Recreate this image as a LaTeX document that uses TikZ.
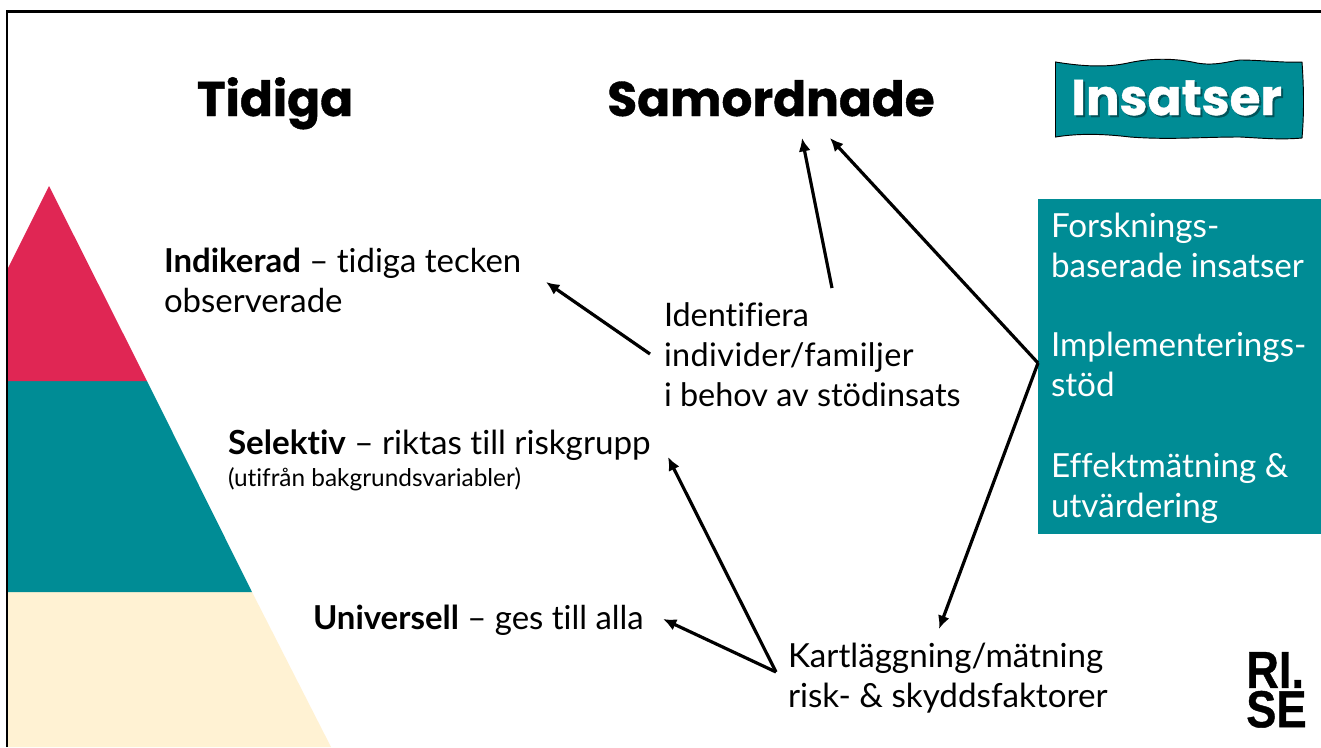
\documentclass[tikz,border=0pt]{standalone}
\usepackage{fontspec}
\setmainfont{Lato}[Ligatures={NoCommon}]
\newfontfamily\headfont{Poppins}[BoldFeatures={FakeBold=0.8}]
\newfontfamily\logofont{Liberation Sans}[BoldFeatures={FakeBold=0.8}]
\usetikzlibrary{arrows.meta}
\definecolor{teal}{HTML}{008C95}
\definecolor{crim}{HTML}{E02654}
\definecolor{cream}{HTML}{FFF2D3}
\tikzset{
  x=0.75pt,y=-0.75pt,
  body/.style={anchor=north west,inner sep=0pt,outer sep=0pt,align=left,font=\fontsize{24.9}{30}\selectfont,text=black},
  head/.style={anchor=base,inner sep=0pt,font=\headfont\bfseries\fontsize{36.4}{40}\selectfont,text=black},
  ins/.style={anchor=base,inner sep=0pt,font=\headfont\bfseries\fontsize{37.5}{40}\selectfont},
  logo/.style={anchor=south west,inner sep=0pt,xscale=0.87,align=left,font=\logofont\bfseries\fontsize{39}{29.5}\selectfont,text=black},
  arr/.style={draw=black,line width=2.4pt,-{Latex[length=10pt,width=9pt]}}
}
\begin{document}
\begin{tikzpicture}
\useasboundingbox (0,0) rectangle (1321,747);
\fill[white] (0,0) rectangle (1321,747);
% pyramid
\fill[cream] (6,592) -- (252,592) -- (331,747) -- (6,747) -- cycle;
\fill[teal] (6,381) -- (147,381) -- (252,592) -- (6,592) -- cycle;
\fill[crim] (6,272) -- (49,186) -- (147,381) -- (6,381) -- cycle;
% frame
\draw[black,line width=1.7pt] (6.8,747) -- (6.8,11.5) -- (1321,11.5);
% headings
\node[head] (tidiga) at (275,116) {Tidiga};
\node[head] (samordnade) at (771,116) {Samordnade};
% Insatser banner
\path[fill=teal,draw=black,line width=0.7pt] (1055.5,62)
  .. controls (1080,66) and (1105,68) .. (1128,63)
  .. controls (1150,58) and (1175,58) .. (1197,63)
  .. controls (1215,66) and (1225,62) .. (1240,60)
  .. controls (1260,60) and (1285,63) .. (1302,62)
  .. controls (1304,90) and (1304,115) .. (1302,138)
  .. controls (1280,140) and (1260,138) .. (1240,137)
  .. controls (1200,137) and (1170,140) .. (1130,137)
  .. controls (1105,134) and (1080,133) .. (1055.5,137) -- cycle;
\node[ins,text=black!40!teal] at (1178.5,117) {Insatser};
\node[ins,text=white] (insatser) at (1176.5,115) {Insatser};
% teal box
\fill[teal] (1038,199) rectangle (1321,534);
\node[body,text=white] (forsk) at (1051,213) {Forsknings-\\baserade insatser};
\node[body,text=white] (impl) at (1051,332) {Implementerings-\\stöd};
\node[body,text=white] (eff) at (1051,453) {Effektmätning \&\\utvärdering};
% left labels
\node[body,font=\fontsize{24.7}{30}\selectfont] (ind) at (164,248) {\textbf{Indikerad} – tidiga tecken\\observerade};
\node[body] (sel) at (228,430) {\textbf{Selektiv} – riktas till riskgrupp};
\node[body,font=\fontsize{18.3}{22}\selectfont] (selsub) at (228,468) {(utifrån bakgrundsvariabler)};
\node[body,font=\fontsize{24.7}{30}\selectfont] (uni) at (313,605) {\textbf{Universell} – ges till alla};
\node[body,font=\fontsize{24.3}{30}\selectfont] (identi) at (664,303) {Identifiera\\{\addfontfeature{LetterSpace=1.3}individer/familjer}\\i behov av stödinsats};
\node[body] (kart) at (788,643) {Kartläggning/mätning\\risk- \& skyddsfaktorer};
% logo
\node[logo] (rise) at (1246,728) {RI.\\SE};
% connectors
\coordinate (a1s) at (650,354); \coordinate (a1e) at (546,282);
\coordinate (a2s) at (832,288); \coordinate (a2e) at (802,138);
\coordinate (hub) at (1038,363); \coordinate (a3e) at (830,138); \coordinate (a4e) at (939,629);
\coordinate (hub2) at (776,672); \coordinate (a5e) at (668,457); \coordinate (a6e) at (663,619);
\draw[arr] (a1s) -- (a1e);
\draw[arr] (a2s) -- (a2e);
\draw[arr] (hub) -- (a3e);
\draw[arr] (hub) -- (a4e);
\draw[arr] (hub2) -- (a5e);
\draw[arr] (hub2) -- (a6e);
\end{tikzpicture}
\end{document}
